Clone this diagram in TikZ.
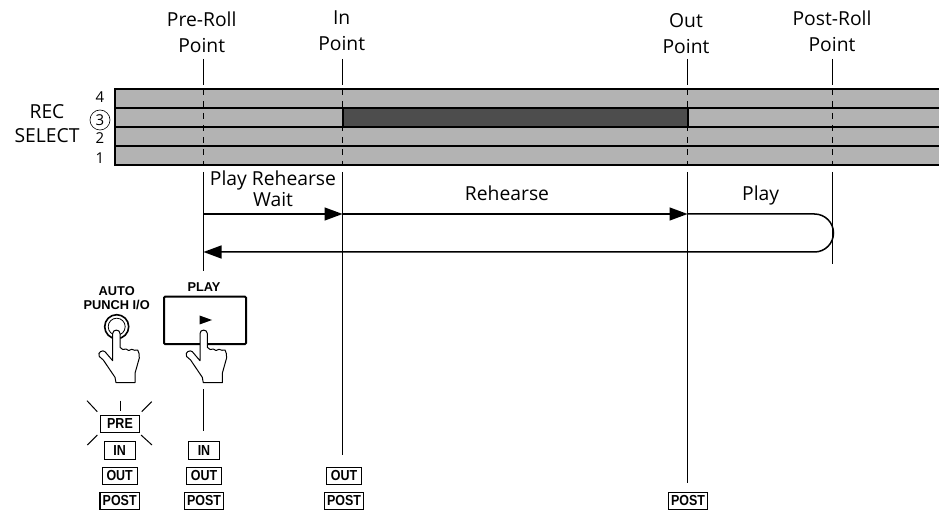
\documentclass[tikz,border=0pt]{standalone}
\usepackage{fontspec}
\setmainfont{Open Sans}
\newfontfamily\btnfont{Liberation Sans}
\newfontfamily\statfont[FakeStretch=0.86]{Liberation Sans}
\usetikzlibrary{arrows.meta}
\definecolor{bandgray}{HTML}{B3B3B3}
\definecolor{banddark}{HTML}{4D4D4D}
\tikzset{
    lbl/.style={anchor=base,align=center,inner sep=0,font=\fontsize{19.3}{26}\selectfont},
    numlbl/.style={anchor=base,inner sep=0,font=\fontsize{15}{15}\selectfont},
    btnlbl/.style={anchor=base,align=center,inner sep=0,font=\btnfont\bfseries\fontsize{12.8}{13.3}\selectfont},
    statusbox/.style={draw,line width=1.2pt,inner sep=0,minimum height=17.5pt,
        font=\statfont\bfseries\fontsize{14.5}{15}\selectfont},
    band/.style={draw,line width=2pt,fill=bandgray},
    markline/.style={line width=1pt},
    flow/.style={line width=1.5pt},
    flowtip/.style={-{Triangle[length=18pt,width=13pt]}},
}
\begin{document}
\begin{tikzpicture}[x=1pt,y=-1pt]
    \useasboundingbox (0,0) rectangle (939,510);
    \def\mx{115} \def\max{941}
    %===========================================
    \coordinate (pre) at (203.5,0);
    \coordinate (in) at (342.5,0);
    \coordinate (out) at (687.5,0);
    \coordinate (post) at (832.7,0);
    % tracks
    \foreach \ya/\yb in {89.5/108.5,108.5/127.5,127.5/146.5,146.5/165.5}
        \draw[band] (\max,\ya) -- (\mx,\ya) -- (\mx,\yb) -- (\max,\yb);
    \draw[band,fill=banddark] (in |- 0,108.5) rectangle (out |- 0,127.5);
    % point lines
    \foreach \p/\yend in {pre/271,in/455,out/483,post/264}{
        \coordinate (\p top) at (\p |- 0,59);
        \coordinate (\p a) at (\p |- 0,85);
        \coordinate (\p b) at (\p |- 0,89);
        \coordinate (\p c) at (\p |- 0,166);
        \coordinate (\p d) at (\p |- 0,172);
        \coordinate (\p end) at (\p |- 0,\yend);
        \draw[markline] (\p top) -- (\p a);
        \draw[markline,dash pattern=on 6pt off 6pt] (\p b) -- (\p c);
        \draw[markline] (\p d) -- (\p end);
    }
    \node[lbl] (prelbl) at (201.7,53) {Pre-Roll\\Point};
    \node[lbl] (inlbl) at (341.7,51) {In\\Point};
    \node[lbl] (outlbl) at (686,54) {Out\\Point};
    \node[lbl] (postlbl) at (832,52) {Post-Roll\\Point};
    \node[lbl] (recsel) at (47,143) {REC\\[-2pt]SELECT};
    %===========================================
    \node[numlbl] (n4) at (100,103) {4};
    \node[numlbl] (n3) at (100,125.5) {3};
    \draw[line width=.6pt] (100,120) circle (10);
    \node[numlbl] (n2) at (100,144) {2};
    \node[numlbl] (n1) at (100,164) {1};
    %===========================================
    \node[lbl] (waitlbl) at (273,207) {Play Rehearse\\[-4.5pt]Wait};
    \node[lbl] (rehlbl) at (507,200.5) {Rehearse};
    \node[lbl] (playlbl) at (760.7,201) {Play};
    \coordinate (a0) at (pre |- 0,214);
    \coordinate (a1) at (in |- 0,214);
    \coordinate (a2) at (out |- 0,214);
    \coordinate (a3) at (pre |- 0,252);
    \draw[flow,flowtip] (a0) -- (a1);
    \draw[flow,flowtip] (a1) -- (a2);
    \draw[flow,flowtip] (a2) -- (814.5,214) arc (-90:90:19) -- (a3);
    %===========================================
    \node[btnlbl] (autolbl) at (116.7,309) {AUTO\\PUNCH I/O};
    \node[btnlbl] (btnplaylbl) at (204,291.7) {PLAY};
    \draw[line width=2pt,rounded corners=1pt] (164,296.7) rectangle (246,344);
    \fill (199.5,315.5) -- (212,320) -- (199.5,324.5) -- cycle;
    \draw[line width=1.6pt] (116.7,326.7) circle (12);
    \draw[line width=.8pt] (116.7,326.7) circle (8.5);
    \foreach \hx in {116,203.3}{
        \begin{scope}[shift={(\hx,330)}]
            \draw[line width=1pt,line join=round,fill=white] (-3.3,30.7) -- (-3.3,3.5)
                .. controls (-3.3,-1) and (4,-1) .. (4,3.5) -- (4,17.3)
                .. controls (5.5,20) and (8,20) .. (10,19)
                .. controls (11.5,21) and (14,21) .. (15.7,19.3)
                .. controls (17.5,20.5) and (20,20.5) .. (21.7,20)
                .. controls (23,22) and (23.5,25) .. (23.3,28) -- (19,43.3) -- (19,52.7) -- (0,52.7)
                -- (-1,47.3) -- (-12.7,30) -- (-16.7,26.5)
                .. controls (-19,22) and (-13,19.5) .. (-11,21.7) -- cycle;
        \end{scope}
    }
    % lights
    \draw[line width=1pt] (203.5,389) -- (203.5,431);
    \node[statusbox,minimum width=39pt] (pre1) at (120,424) {PRE};
    \foreach \ax/\ay/\bx/\by in {-33/-23.3/-22.7/-12.3,0/-23.3/0/-13,31.7/-22.3/21.7/-12.3,-32.7/21/-22.7/11,32/21/21/11}
        \draw[line width=1pt] ([shift={(\ax,\ay)}]pre1.center) -- ([shift={(\bx,\by)}]pre1.center);
    \foreach \nm/\hx in {a/119.7,b/204}{
        \node[statusbox,minimum width=31pt] (in\nm) at (\hx,450.5) {IN};
    }
    \foreach \nm/\hx in {a/119.7,b/204,c/344}{
        \node[statusbox,minimum width=35pt] (out\nm) at (\hx,476) {OUT};
    }
    \foreach \nm/\hx in {a/119.7,b/204,c/344,d/688}{
        \node[statusbox,minimum width=39.5pt] (post\nm) at (\hx,501) {POST};
    }
\end{tikzpicture}
\end{document}
